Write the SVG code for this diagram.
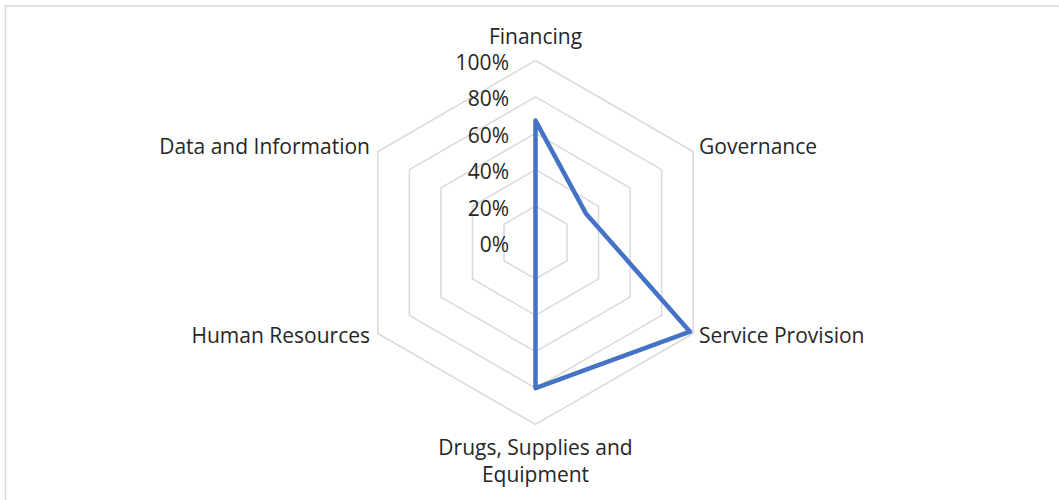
<svg xmlns="http://www.w3.org/2000/svg" width="1059" height="500" viewBox="0 0 1059 500">
  <style>
    .lbl { font-family: "Open Sans", "Liberation Sans", sans-serif; font-size: 21px; fill: #262626; }
    .grid { fill: none; stroke: #d9d9d9; stroke-width: 1.5; }
    .series { fill: none; stroke: #4472c4; stroke-width: 4.5; stroke-linejoin: round; }
  </style>
  <rect x="0" y="0" width="1059" height="500" fill="#ffffff"/>
  <rect x="5.5" y="6" width="1070" height="510" fill="none" stroke="#d9d9d9" stroke-width="1.5"/>
  <g id="grid">
    <polygon class="grid" points="535.5,60.5 693.1,151.5 693.1,333.5 535.5,424.5 377.9,333.5 377.9,151.5"/>
    <polygon class="grid" points="535.5,96.9 661.6,169.7 661.6,315.3 535.5,388.1 409.4,315.3 409.4,169.7"/>
    <polygon class="grid" points="535.5,133.3 630.1,187.9 630.1,297.1 535.5,351.7 440.9,297.1 440.9,187.9"/>
    <polygon class="grid" points="535.5,169.7 598.5,206.1 598.5,278.9 535.5,315.3 472.5,278.9 472.5,206.1"/>
    <polygon class="grid" points="535.5,206.1 567,224.3 567,260.7 535.5,278.9 504,260.7 504,224.3"/>
  </g>
  <g id="scale" class="lbl" text-anchor="end">
    <text x="509" y="70">100%</text>
    <text x="509" y="106.4">80%</text>
    <text x="509" y="142.8">60%</text>
    <text x="509" y="179.2">40%</text>
    <text x="509" y="215.6">20%</text>
    <text x="509" y="252">0%</text>
  </g>
  <g id="connectors">
    <polygon class="series" points="535.5,120.6 585.9,213.4 690,331.7 535.5,388.1 535.5,242.5 535.5,242.5"/>
  </g>
  <g id="financing"><text class="lbl" x="535.5" y="44" text-anchor="middle">Financing</text></g>
  <g id="governance"><text class="lbl" x="699" y="154.3">Governance</text></g>
  <g id="service-provision"><text class="lbl" x="699" y="343.3">Service Provision</text></g>
  <g id="drugs"><text class="lbl" x="535.5" y="455" text-anchor="middle">Drugs, Supplies and<tspan x="535.5" y="482">Equipment</tspan></text></g>
  <g id="human-resources"><text class="lbl" x="370" y="343.3" text-anchor="end">Human Resources</text></g>
  <g id="data-information"><text class="lbl" x="370" y="154.3" text-anchor="end">Data and Information</text></g>
</svg>
